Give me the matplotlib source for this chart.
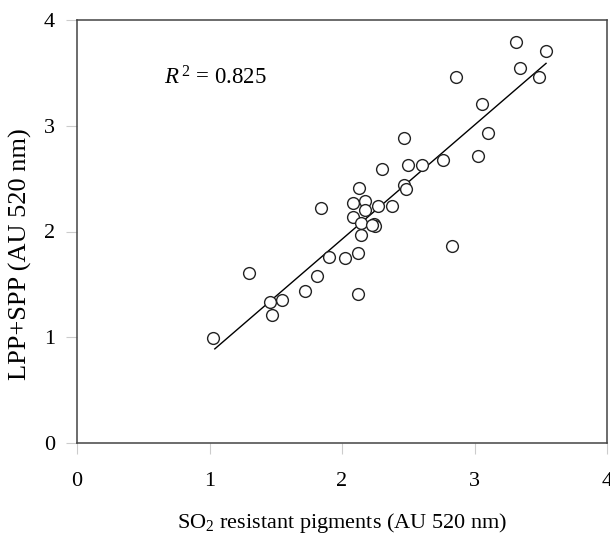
import matplotlib
matplotlib.use('Agg')
import matplotlib.pyplot as plt
import numpy as np

plt.rcParams['font.family'] = 'Liberation Serif'
plt.rcParams['mathtext.fontset'] = 'custom'
plt.rcParams['mathtext.rm'] = 'Liberation Serif'
plt.rcParams['mathtext.it'] = 'Liberation Serif:italic'

# SO2 resistant pigments vs LPP+SPP
so2_resistant = [1.03, 1.30, 1.46, 1.47, 1.55, 1.72, 1.81, 1.90, 2.02, 2.12,
                 2.12, 2.14, 1.84, 2.08, 2.13, 2.17, 2.17, 2.27, 2.38, 2.08,
                 2.14, 2.24, 2.25, 2.23, 2.30, 2.47, 2.50, 2.60, 2.47, 2.48,
                 2.76, 2.83, 2.86, 3.03, 3.06, 3.10, 3.31, 3.34, 3.49, 3.54]
lpp_spp = [0.99, 1.61, 1.33, 1.21, 1.35, 1.44, 1.58, 1.76, 1.75, 1.41,
           1.80, 1.97, 2.22, 2.27, 2.41, 2.29, 2.20, 2.24, 2.24, 2.14,
           2.08, 2.07, 2.05, 2.06, 2.59, 2.88, 2.63, 2.63, 2.44, 2.40,
           2.68, 1.86, 3.46, 2.71, 3.21, 2.93, 3.79, 3.55, 3.46, 3.71]

fit_x = [1.04, 3.54]
fit_y = [0.89, 3.59]

r2_text = r'$R^{\,2}$ = 0.825'
ticks = [0, 1, 2, 3, 4]

fig = plt.figure(figsize=(6.1, 5.35), dpi=100)
ax = fig.add_axes([77 / 610, 92 / 535, 530 / 610, 423 / 535])

ax.plot(fit_x, fit_y, color='black', lw=1.0)
ax.scatter(so2_resistant, lpp_spp, s=72, facecolors='white', edgecolors='#222222',
           linewidths=1.0, zorder=3)

ax.text(0.66, 3.45, r2_text, fontsize=16.5, va='center', ha='left')

ax.set_xlim(0, 4)
ax.set_ylim(0, 4)
ax.set_xticks(ticks)
ax.set_yticks(ticks)
for s in ax.spines.values():
    s.set_linewidth(1.1)
    s.set_color('#444444')
ax.tick_params(axis='x', direction='out', length=8, color='#cccccc', labelsize=16, pad=13)
ax.tick_params(axis='y', direction='out', length=8, color='#cccccc', labelsize=16, pad=8)

ax.set_xlabel(r'SO$_2$ resistant pigments (AU 520 nm)', fontsize=16, labelpad=14)
ax.set_ylabel('LPP+SPP (AU 520 nm)', fontsize=19)
ax.yaxis.set_label_coords(-0.085, 0.447)

fig.savefig('out.png', dpi=100)
